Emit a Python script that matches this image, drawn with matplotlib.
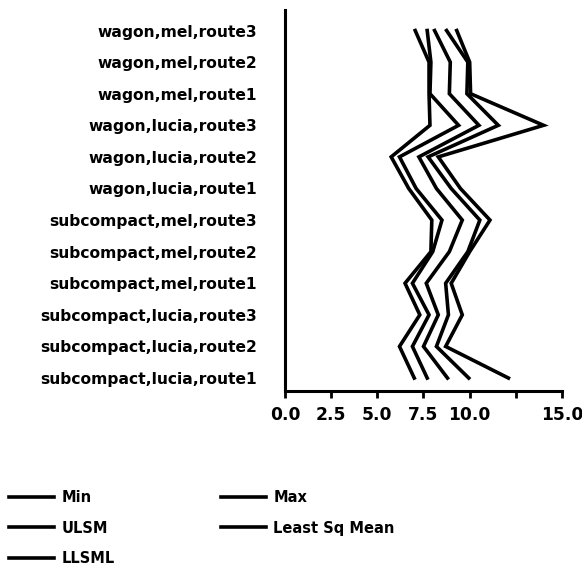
import matplotlib
matplotlib.use("Agg")
import matplotlib.pyplot as plt
from matplotlib.lines import Line2D

categories = [
    "subcompact,lucia,route1", "subcompact,lucia,route2", "subcompact,lucia,route3",
    "subcompact,mel,route1", "subcompact,mel,route2", "subcompact,mel,route3",
    "wagon,lucia,route1", "wagon,lucia,route2", "wagon,lucia,route3",
    "wagon,mel,route1", "wagon,mel,route2", "wagon,mel,route3",
]
min_vals   = [7.0, 6.2, 7.3, 6.5, 7.9, 7.95, 6.7, 5.75, 7.85, 7.8, 7.8, 7.05]
llsml_vals = [7.7, 6.9, 7.8, 6.9, 8.0, 8.5, 7.1, 6.2, 9.4, 7.85, 7.9, 7.7]
lsm_vals   = [8.8, 7.5, 8.3, 7.65, 8.9, 9.6, 8.2, 7.25, 10.5, 8.9, 8.95, 8.1]
ulsm_vals  = [9.95, 8.2, 8.85, 8.7, 9.9, 10.55, 9.0, 7.75, 11.55, 9.85, 9.9, 8.75]
max_vals   = [12.1, 8.7, 9.6, 9.0, 10.0, 11.1, 9.5, 8.3, 14.0, 10.05, 10.0, 9.3]

xticks = [0, 2.5, 5, 7.5, 10, 12.5, 15]
xtick_labels = ["0.0", "2.5", "5.0", "7.5", "10.0", "", "15.0"]

plt.rcParams["font.family"] = ["DejaVu Sans"]
plt.rcParams["font.weight"] = "bold"

fig = plt.figure(figsize=(5.82, 5.85), dpi=100)
ax = fig.add_axes([285 / 582, 1 - 391 / 585, (562 - 285) / 582, (391 - 10) / 585])

ypos = list(range(len(categories)))
series = [("Min", min_vals), ("Max", max_vals), ("ULSM", ulsm_vals),
          ("Least Sq Mean", lsm_vals), ("LLSML", llsml_vals)]
for name, vals in series:
    ax.plot(vals, ypos, color="black", lw=2.6, solid_joinstyle="miter", label=name)

ax.set_xlim(0, 15)
ax.set_ylim(-0.41, 11.65)
ax.set_yticks(ypos)
ax.set_yticklabels(categories, fontsize=11.2, fontweight="bold")
ax.set_xticks(xticks)
ax.set_xticklabels(xtick_labels, fontsize=12.3, fontweight="bold")
ax.tick_params(axis="y", length=0, pad=20)
ax.tick_params(axis="x", direction="out", length=5, width=2, pad=6)
for s in ["top", "right"]:
    ax.spines[s].set_visible(False)
for s in ["left", "bottom"]:
    ax.spines[s].set_linewidth(2.2)

handles = {name: Line2D([], [], color="black", lw=2.6) for name, _ in series}
order = ["Min", "ULSM", "LLSML", "Max", "Least Sq Mean"]
fig.legend([handles[n] for n in order], order, ncol=2, frameon=False,
           loc="upper left", bbox_to_anchor=(0.005, 0.172),
           prop={"weight": "bold", "size": 10.5},
           handlelength=3.1, handletextpad=0.5, columnspacing=7.3,
           labelspacing=1.05, borderaxespad=0)

fig.savefig("out.png", dpi=100, facecolor="white")
